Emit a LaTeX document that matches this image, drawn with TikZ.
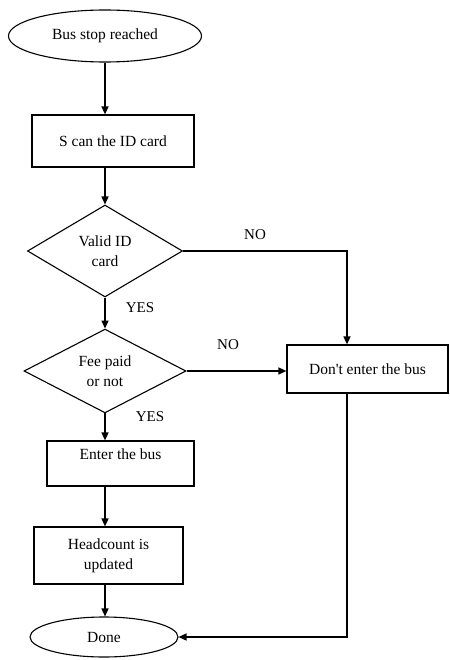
\documentclass[tikz,border=0pt]{standalone}
\usepackage{fontspec}
\setmainfont{Liberation Serif}
\newfontfamily\diagfont{Liberation Serif}
\usetikzlibrary{shapes.geometric,arrows.meta}
\begin{document}
\begin{tikzpicture}[x=1pt,y=-1pt,
  every node/.style={font=\diagfont\fontsize{15.5}{20}\selectfont, align=center, inner sep=0pt},
  term/.style={draw, ellipse, line width=1.1pt},
  procbox/.style={draw, rectangle, line width=1.2pt},
  decide/.style={draw, diamond, line width=1.1pt},
  arr/.style={line width=1.5pt, -{Triangle[length=8pt,width=7pt]}},
  lbl/.style={font=\diagfont\fontsize{15}{18}\selectfont}]
\useasboundingbox (0,0) rectangle (449,660);
\node[term, minimum width=193, minimum height=52] (start) at (105,36) {Bus stop reached};
\node[procbox, minimum width=162, minimum height=52] (scan) at (113,141) {S can the ID card};
\node[decide, minimum width=155, minimum height=92] (valid) at (105,251) {Valid ID\\card};
\node[decide, minimum width=162, minimum height=82] (fee) at (105,371) {Fee paid\\or not};
\node[procbox, minimum width=161, minimum height=48] (dont) at (367.5,369) {Don't enter the bus};
\node[procbox, minimum width=147, minimum height=45] (enter) at (120.5,463.5) {\raisebox{4.5pt}[0pt][0pt]{Enter the bus}};
\node[procbox, minimum width=149, minimum height=57] (head) at (108.5,555.5) {Headcount is\\updated};
\node[term, minimum width=148, minimum height=40] (done) at (104,637) {Done};
\coordinate (jx) at (347,0);
\draw[arr] (start.south) -- (start.south |- scan.north);
\draw[arr] (valid.north |- scan.south) -- (valid.north);
\draw[arr] (valid.south) -- (fee.north);
\draw[arr] (fee.south) -- (fee.south |- enter.north);
\draw[arr] (fee.south |- enter.south) -- (fee.south |- head.north);
\draw[arr] (fee.south |- head.south) -- (fee.south |- done.north);
\draw[arr] (valid.east) -| (jx |- dont.north);
\draw[arr] (fee.east) -- (fee.east -| dont.west);
\draw[arr] (jx |- dont.south) |- (done.east);
\node[lbl] (no1) at (255,235) {NO};
\node[lbl] (no2) at (228,345) {NO};
\node[lbl] (yes1) at (140,308) {YES};
\node[lbl] (yes2) at (150,417) {YES};
\end{tikzpicture}
\end{document}
